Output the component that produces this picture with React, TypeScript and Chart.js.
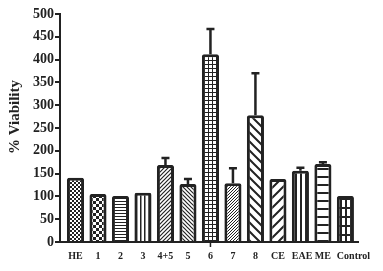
import React, { useEffect, useRef } from "react";
import { Chart, registerables } from "chart.js";

Chart.register(...registerables);

const categories = ["HE", "1", "2", "3", "4+5", "5", "6", "7", "8", "CE", "EAE", "ME", "Control"];
const viability = [141, 105, 101, 108, 169, 127, 412, 129, 278, 138, 156, 171, 101];
const errorUp = [0, 0, 0, 0, 15, 11, 55, 33, 92, 0, 7, 4, 0];
const patternKinds = ["checkFine", "checkBig", "hLinesFine", "vLinesFine", "slashFine", "backFine", "gridFine", "slashDense", "backWide", "slashWide", "vLinesWide", "hLinesWide", "gridWide"];
const yTicks = [0, 50, 100, 150, 200, 250, 300, 350, 400, 450, 500];
const yTitle = "% Viability";

const INK = "#222";
const SERIF = "'Liberation Serif', 'Times New Roman', serif";

function makePattern(kind: string): CanvasPattern | string {
  let w = 4, h = 4;
  const sizes: Record<string, [number, number]> = {
    checkFine: [4, 4], checkBig: [6, 6], hLinesFine: [3, 3], vLinesFine: [4, 4],
    slashFine: [4, 4], backFine: [4, 4], gridFine: [4, 4], slashDense: [3, 3],
    backWide: [9, 9], slashWide: [10, 10], vLinesWide: [5, 5], hLinesWide: [8, 8], gridWide: [5, 9],
  };
  [w, h] = sizes[kind] || [4, 4];
  const cv = document.createElement("canvas");
  cv.width = w; cv.height = h;
  const c = cv.getContext("2d");
  if (!c) return "#fff";
  c.fillStyle = "#fff"; c.fillRect(0, 0, w, h);
  c.fillStyle = INK; c.strokeStyle = INK;
  const slash = (lw: number) => {
    c.lineWidth = lw; c.beginPath();
    c.moveTo(-1, h + 1); c.lineTo(w + 1, -1);
    c.moveTo(-w - 1, h + 1); c.lineTo(1, -1);
    c.moveTo(w - 1, h + 1); c.lineTo(2 * w + 1, -1);
    c.stroke();
  };
  const back = (lw: number) => {
    c.lineWidth = lw; c.beginPath();
    c.moveTo(-1, -1); c.lineTo(w + 1, h + 1);
    c.moveTo(-w - 1, -1); c.lineTo(1, h + 1);
    c.moveTo(w - 1, -1); c.lineTo(2 * w + 1, h + 1);
    c.stroke();
  };
  switch (kind) {
    case "checkFine": c.fillRect(0, 0, 2, 2); c.fillRect(2, 2, 2, 2); break;
    case "checkBig": c.fillRect(0, 0, 3, 3); c.fillRect(3, 3, 3, 3); break;
    case "hLinesFine": c.fillRect(0, 0, w, 1); break;
    case "vLinesFine": c.fillRect(0, 0, 1.5, h); break;
    case "slashFine": slash(1.2); break;
    case "backFine": back(1.2); break;
    case "gridFine": c.fillRect(0, 0, w, 1); c.fillRect(0, 0, 1, h); break;
    case "slashDense": slash(1); break;
    case "backWide": back(2); break;
    case "slashWide": slash(2); break;
    case "vLinesWide": c.fillRect(0, 0, 2, h); break;
    case "hLinesWide": c.fillRect(0, 0, w, 2); break;
    case "gridWide": c.fillRect(0, 0, w, 2); c.fillRect(0, 0, 2, h); break;
  }
  return c.createPattern(cv, "repeat") || "#fff";
}

const errorBarPlugin = {
  id: "errorBars",
  afterDatasetsDraw(chart: any) {
    const meta = chart.getDatasetMeta(0);
    const y = chart.scales.y;
    const ctx = chart.ctx;
    ctx.save();
    ctx.strokeStyle = INK;
    ctx.lineWidth = 2.5;
    meta.data.forEach((bar: any, i: number) => {
      const e = errorUp[i];
      if (!e) return;
      const top = y.getPixelForValue(viability[i] + e);
      ctx.beginPath();
      ctx.moveTo(bar.x, bar.y);
      ctx.lineTo(bar.x, top);
      ctx.moveTo(bar.x - 4, top);
      ctx.lineTo(bar.x + 4, top);
      ctx.stroke();
    });
    ctx.restore();
  },
};

// Category labels: centred under each bar, or left-aligned at the bar's
// left edge when the label is wider than the bar (as in the original).
const xLabelPlugin = {
  id: "xLabels",
  afterDraw(chart: any) {
    const meta = chart.getDatasetMeta(0);
    const ctx = chart.ctx;
    const yPos = chart.chartArea.bottom + 14;
    ctx.save();
    ctx.font = `bold 10px ${SERIF}`;
    ctx.fillStyle = INK;
    ctx.textBaseline = "middle";
    meta.data.forEach((bar: any, i: number) => {
      const label = categories[i];
      const tw = ctx.measureText(label).width;
      if (tw > bar.width) {
        ctx.textAlign = "left";
        ctx.fillText(label, bar.x - bar.width / 2, yPos);
      } else {
        ctx.textAlign = "center";
        ctx.fillText(label, bar.x, yPos);
      }
    });
    // small tick mark below the axis under category "6"
    const idx = categories.indexOf("6");
    const b = meta.data[idx];
    if (b) {
      ctx.strokeStyle = INK;
      ctx.lineWidth = 1.5;
      ctx.beginPath();
      ctx.moveTo(b.x, chart.chartArea.bottom);
      ctx.lineTo(b.x, chart.chartArea.bottom + 5);
      ctx.stroke();
    }
    ctx.restore();
  },
};

const yTitlePlugin = {
  id: "yTitleText",
  afterDraw(chart: any) {
    const ctx = chart.ctx;
    ctx.save();
    ctx.translate(15, 117);
    ctx.rotate(-Math.PI / 2);
    ctx.font = `bold 15px ${SERIF}`;
    ctx.fillStyle = INK;
    ctx.textAlign = "center";
    ctx.textBaseline = "middle";
    ctx.fillText(yTitle, 0, 0);
    ctx.restore();
  },
};

export default function App() {
  const ref = useRef<HTMLCanvasElement>(null);
  useEffect(() => {
    if (!ref.current) return;
    const chart = new Chart(ref.current, {
      type: "bar",
      data: {
        datasets: [
          {
            data: viability.map((v, i) => ({ x: i, y: v })),
            backgroundColor: patternKinds.map(makePattern),
            borderColor: INK,
            borderWidth: 3,
            borderRadius: 2,
            borderSkipped: "bottom",
            barPercentage: 0.76,
            categoryPercentage: 1,
          } as any,
        ],
      },
      options: {
        responsive: false,
        animation: false,
        layout: { padding: { top: 14, right: 25, left: 0, bottom: 0 } },
        plugins: { legend: { display: false }, tooltip: { enabled: false } },
        scales: {
          x: {
            type: "linear",
            offset: false,
            min: -0.689,
            max: 12.56,
            afterBuildTicks: (scale: any) => {
              scale.ticks = categories.map((_, i) => ({ value: i }));
            },
            ticks: { display: false },
            grid: { offset: false, drawOnChartArea: false, drawTicks: false },
            border: { display: true, color: INK, width: 2 },
            afterFit: (scale: any) => { scale.height = 29; },
          },
          y: {
            min: 0,
            max: 500,
            afterBuildTicks: (scale: any) => {
              scale.ticks = yTicks.map((v) => ({ value: v }));
            },
            ticks: {
              padding: 1,
              color: INK,
              font: { family: SERIF, size: 14, weight: "bold" },
            },
            grid: { drawOnChartArea: false, drawTicks: true, tickLength: 5, color: INK, lineWidth: 2 },
            border: { display: true, color: INK, width: 2 },
            afterFit: (scale: any) => { scale.width = 60; },
          },
        },
      } as any,
      plugins: [errorBarPlugin, xLabelPlugin, yTitlePlugin],
    });
    return () => chart.destroy();
  }, []);
  return (
    <div style={{ position: "fixed", left: 0, top: 0, width: 383, height: 271, background: "#fff" }}>
      <canvas ref={ref} width={383} height={271} />
    </div>
  );
}
